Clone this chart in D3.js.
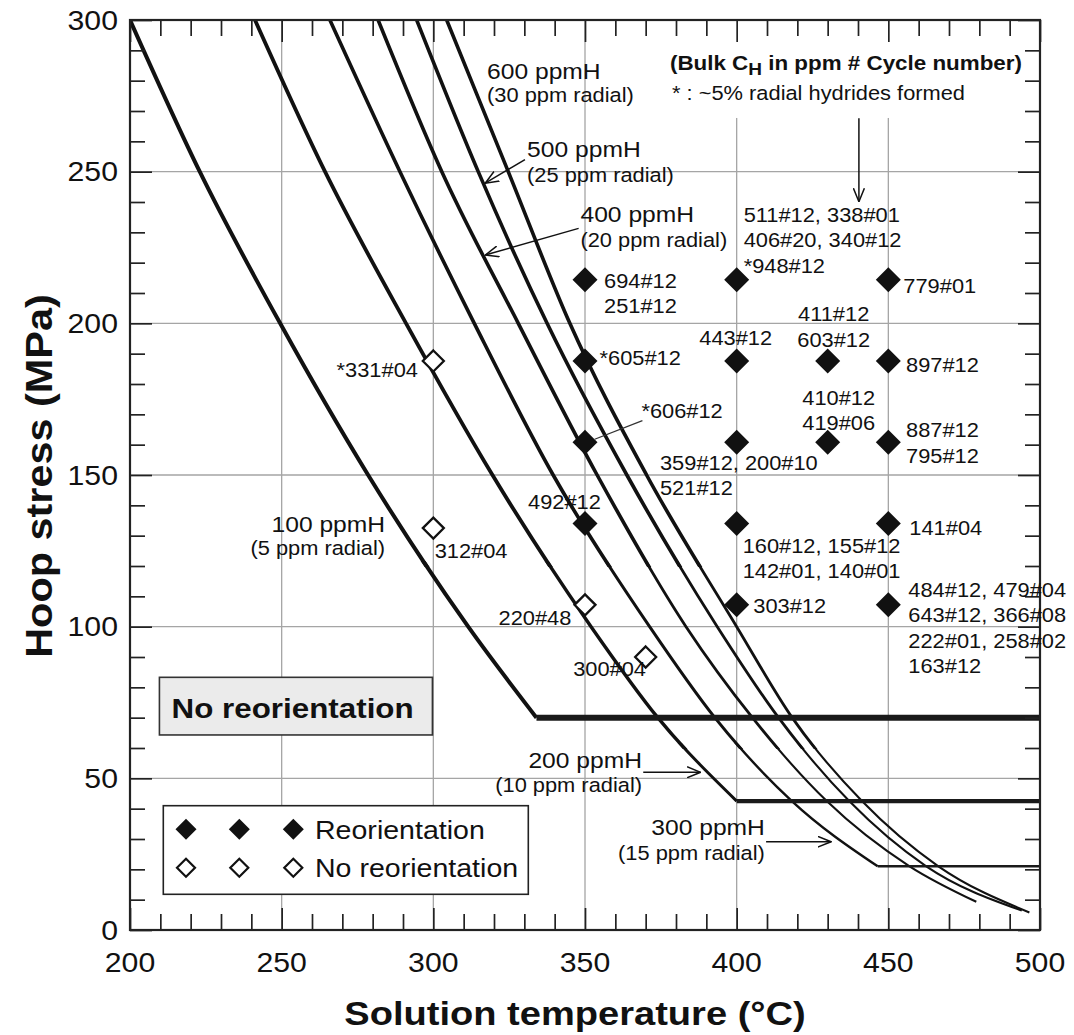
<!DOCTYPE html>
<html>
<head>
<meta charset="utf-8">
<script src="https://cdn.jsdelivr.net/npm/d3@7/dist/d3.min.js"></script>
<style>
  html, body { margin: 0; padding: 0; background: #fff; }
  svg { display: block; }
  text { font-family: "Liberation Sans", Arial, Helvetica, sans-serif; fill: #111; }
</style>
</head>
<body>
<svg id="chart" width="1074" height="1035"></svg>
<script>
// ---------- axes ----------
const tempDomain = [200, 500];
const stressDomain = [0, 300];
const tempTicks = [200, 250, 300, 350, 400, 450, 500];
const stressTicks = [0, 50, 100, 150, 200, 250, 300];

// ---------- threshold curves: [solution temperature °C, hoop stress MPa] ----------
const curve100 = [[200,300],[223,250],[249.5,200],[278.5,150],[311.5,100],[334,70]];
const curve200 = [[241.2,300],[264.3,250],[291,200],[319.5,150],[352,100],[374,70],[400,42.5]];
const curve300 = [[265.9,300],[289,250],[313.5,200],[339.5,150],[371.3,100],[392.8,70],[418.2,42.5],[446.5,21]];
const curve400 = [[281.8,300],[302.8,250],[328,200],[354,150],[383.3,100],[405.2,70],[429.7,42.5],[457,21],[479,9.3]];
const curve500 = [[294.5,300],[314.8,250],[337.5,200],[363.8,150],[393.6,100],[413.8,70],[437.1,42.5],[462.5,21],[494,6.4]];
const curve600 = [[304.4,300],[324.7,250],[345,200],[370.3,150],[400,100],[418.3,70],[441.3,42.5],[466.5,21],[496.5,5.8]];

// flat limits where the low-hydrogen curves level off
const plateau100 = [[334,70],[500,70]];
const plateau200 = [[400,42.5],[500,42.5]];
const plateau300 = [[446.5,21],[500,21]];

// ---------- tests with radial hydride reorientation ----------
const reoTemp   = [350, 400, 450, 350, 400, 430, 450, 350, 400, 430, 450, 350, 400, 450, 400, 450];
const reoStress = [214.4, 214.4, 214.4, 187.6, 187.6, 187.6, 187.6, 160.8, 160.8, 160.8, 160.8, 134, 134, 134, 107.2, 107.2];
const reoTags = [
  ['694#12', '251#12'],
  ['511#12, 338#01', '406#20, 340#12', '*948#12'],
  ['779#01'],
  ['*605#12'],
  ['443#12'],
  ['411#12', '603#12'],
  ['897#12'],
  ['*606#12'],
  ['359#12, 200#10', '521#12'],
  ['410#12', '419#06'],
  ['887#12', '795#12'],
  ['492#12'],
  ['160#12, 155#12', '142#01, 140#01'],
  ['141#04'],
  ['303#12'],
  ['484#12, 479#04', '643#12, 366#08', '222#01, 258#02', '163#12']
];

// ---------- tests without reorientation ----------
const noReoTemp   = [300, 300, 350, 370];
const noReoStress = [187.6, 132.5, 107.2, 90];
const noReoTags   = [['*331#04'], ['312#04'], ['220#48'], ['300#04']];

// ---------- tag placement (pixel offsets from the marker) ----------
const reoTagLayout = [
  {dx: 19, dy: 8.6, lh: 25},
  {dx: 7, dy: -58, lh: 25.8},
  {dx: 15, dy: 13.6},
  {dx: 14.5, dy: 4},
  {dx: -1, dy: -16, anchor: 'middle'},
  {dx: 6, dy: -40.2, lh: 26, anchor: 'middle'},
  {dx: 17.7, dy: 10.8},
  {dx: 56.4, dy: -24},
  {dx: -76.7, dy: 27.7, lh: 25},
  {dx: -25.4, dy: -37.3, lh: 25},
  {dx: 17.7, dy: -5.6, lh: 26.6},
  {dx: -57, dy: -14.3},
  {dx: 6, dy: 29.7, lh: 24.4},
  {dx: 21, dy: 11.4},
  {dx: 16.6, dy: 8.4},
  {dx: 20, dy: -8.2, lh: 25.6}
];
const noReoTagLayout = [
  {dx: -15.4, dy: 15.8, anchor: 'end'},
  {dx: 1.3, dy: 30.2},
  {dx: -13.6, dy: 20.1, anchor: 'end'},
  {dx: 0.3, dy: 19, anchor: 'end'}
];

// ---------- curve captions, anchored in data units ----------
const curveCaptions = [
  {lines: ['600 ppmH', '(30 ppm radial)'], t: 317.7, s: 280.6, anchor: 'start', lh: 23},
  {lines: ['500 ppmH', '(25 ppm radial)'], t: 330.9, s: 255.0, anchor: 'start', lh: 25},
  {lines: ['400 ppmH', '(20 ppm radial)'], t: 348.5, s: 233.4, anchor: 'start', lh: 25},
  {lines: ['100 ppmH', '(5 ppm radial)'],  t: 284.1, s: 131.3, anchor: 'end', lh: 23.3},
  {lines: ['200 ppmH', '(10 ppm radial)'], t: 368.8, s: 53.3, anchor: 'end', lh: 23.4},
  {lines: ['300 ppmH', '(15 ppm radial)'], t: 409.3, s: 31.3, anchor: 'end', lh: 25}
];
// pointer arrows: [fromT, fromS, toT, toS]
const pointers = [
  [330.2, 254.0, 317.1, 246.2],
  [347.9, 231.3, 317.1, 222.5],
  [369.2, 52.0, 388.1, 52.0],
  [409.7, 29.1, 431.1, 29.1],
  [440.3, 267.6, 440.3, 240.1]
];

// ================= drawing =================
const svg = d3.select('#chart');
const x = d3.scaleLinear().domain(tempDomain).range([130, 1040]);
const y = d3.scaleLinear().domain(stressDomain).range([930, 20]);
const SX = 1.12;          // glyphs of this figure are set slightly wide
const INK = '#111';

function label(g, px, py, str, o = {}) {
  const t = g.append('text')
    .attr('transform', `translate(${px},${py}) scale(${SX},1)`)
    .attr('text-anchor', o.anchor || 'start')
    .style('font-size', (o.size || 19.5) + 'px')
    .style('font-weight', o.bold ? 'bold' : 'normal')
    .text(str);
  return t;
}

const defs = svg.append('defs');
defs.append('clipPath').attr('id', 'plot').append('rect')
  .attr('x', x(200)).attr('y', y(300))
  .attr('width', x(500) - x(200)).attr('height', y(0) - y(300));
// stress bands: the traced curves get thinner towards low stress
const bands = [[300, 118], [120, 58], [60, 0]];
bands.forEach((b, i) => {
  defs.append('clipPath').attr('id', 'band' + i).append('rect')
    .attr('x', x(200) - 5).attr('y', y(b[0]) - 5)
    .attr('width', x(500) - x(200) + 10).attr('height', y(b[1]) - y(b[0]) + (i === 2 ? 10 : 0));
});
defs.append('marker').attr('id', 'arrow')
  .attr('viewBox', '0 0 14 12').attr('refX', 13.5).attr('refY', 6)
  .attr('markerWidth', 14).attr('markerHeight', 12)
  .attr('markerUnits', 'userSpaceOnUse').attr('orient', 'auto')
  .append('path').attr('d', 'M0,0.5 L13.5,6 L0,11.5')
  .attr('fill', 'none').attr('stroke', INK).attr('stroke-width', 1.5);

// grid
const grid = svg.append('g').attr('stroke', '#a5a5a5').attr('stroke-width', 1.3);
grid.selectAll('line.gx').data(tempTicks.slice(1, -1)).join('line').attr('class', 'gx')
  .attr('x1', d => x(d)).attr('x2', d => x(d)).attr('y1', y(300)).attr('y2', y(0));
grid.selectAll('line.gy').data(stressTicks.slice(1, -1)).join('line').attr('class', 'gy')
  .attr('x1', x(200)).attr('x2', x(500)).attr('y1', d => y(d)).attr('y2', d => y(d));

// blank panel behind the header note
svg.append('rect').attr('x', x(375)).attr('y', y(300) + 1)
  .attr('width', x(500) - x(375) - 2).attr('height', y(267.7) - y(300) - 1).attr('fill', '#fff');

// threshold curves
const curveLine = d3.line().x(d => x(d[0])).y(d => y(d[1])).curve(d3.curveMonotoneX);
const straight = d3.line().x(d => x(d[0])).y(d => y(d[1]));
const curveSet = [
  {pts: curve100, w: [4.0, 4.0, 4.0]},
  {pts: curve200, w: [3.8, 3.4, 3.0]},
  {pts: curve300, w: [3.6, 3.0, 2.4]},
  {pts: curve400, w: [3.6, 2.8, 2.1]},
  {pts: curve500, w: [3.6, 2.8, 2.1]},
  {pts: curve600, w: [3.6, 2.8, 2.1]}
];
const cg = svg.append('g').attr('clip-path', 'url(#plot)');
curveSet.forEach(c => {
  c.w.forEach((w, i) => {
    cg.append('g').attr('clip-path', `url(#band${i})`).append('path')
      .attr('d', curveLine(c.pts)).attr('fill', 'none')
      .attr('stroke', INK).attr('stroke-width', w).attr('stroke-linejoin', 'round');
  });
});
[[plateau100, 6], [plateau200, 4.4], [plateau300, 2.4]].forEach(([p, w]) => {
  cg.append('path').attr('d', straight(p)).attr('fill', 'none')
    .attr('stroke', '#1a1a1a').attr('stroke-width', w);
});

// markers
const diamond = r => `M0,${-r}L${r},0L0,${r}L${-r},0Z`;
svg.append('g').selectAll('path').data(d3.range(reoTemp.length)).join('path')
  .attr('transform', i => `translate(${x(reoTemp[i])},${y(reoStress[i])})`)
  .attr('d', diamond(12.5)).attr('fill', INK);
svg.append('g').selectAll('path').data(d3.range(noReoTemp.length)).join('path')
  .attr('transform', i => `translate(${x(noReoTemp[i])},${y(noReoStress[i])})`)
  .attr('d', diamond(10.5)).attr('fill', '#fff').attr('stroke', INK).attr('stroke-width', 2.3);

// leader from the *606#12 tag to its marker
svg.append('line')
  .attr('x1', x(350) + 57.4).attr('y1', y(160.8) - 21.6)
  .attr('x2', x(350) + 9.7).attr('y2', y(160.8) - 3)
  .attr('stroke', '#333').attr('stroke-width', 1.3);

// frame and ticks
const frame = svg.append('g');
const minorT = d3.range(200, 501, 10).filter(v => v % 50 !== 0);
const minorS = d3.range(0, 301, 10).filter(v => v % 50 !== 0);
function tickRow(axis, vals, size, tr) {
  frame.append('g').attr('transform', tr)
    .call(axis.tickValues(vals).tickSize(-size).tickFormat(''))
    .call(g => g.select('.domain').remove())
    .call(g => g.selectAll('line').attr('stroke', '#222').attr('stroke-width', 1.7));
}
tickRow(d3.axisBottom(x), tempTicks, 22, `translate(0,${y(0)})`);
tickRow(d3.axisBottom(x), minorT, 16, `translate(0,${y(0)})`);
tickRow(d3.axisTop(x), tempTicks, 22, `translate(0,${y(300)})`);
tickRow(d3.axisTop(x), minorT, 16, `translate(0,${y(300)})`);
tickRow(d3.axisLeft(y), stressTicks, 22, `translate(${x(200)},0)`);
tickRow(d3.axisLeft(y), minorS, 15, `translate(${x(200)},0)`);
tickRow(d3.axisRight(y), stressTicks, 22, `translate(${x(500)},0)`);
tickRow(d3.axisRight(y), minorS, 15, `translate(${x(500)},0)`);
frame.append('rect').attr('x', x(200)).attr('y', y(300))
  .attr('width', x(500) - x(200)).attr('height', y(0) - y(300))
  .attr('fill', 'none').attr('stroke', '#222').attr('stroke-width', 2.2);

// tick labels
const tl = svg.append('g');
tempTicks.forEach(v => label(tl, x(v), 972, String(v), {size: 27, anchor: 'middle'}));
stressTicks.forEach(v => label(tl, 118, y(v) + 9.6, String(v), {size: 27, anchor: 'end'}));

// axis titles
label(svg, 575, 1025, 'Solution temperature (°C)', {size: 34, bold: true, anchor: 'middle'});
svg.append('text')
  .attr('transform', `translate(52,${(y(0) + y(300)) / 2 + 1}) rotate(-90) scale(${SX},1)`)
  .attr('text-anchor', 'middle').style('font-size', '37px').style('font-weight', 'bold')
  .text('Hoop stress (MPa)');

// specimen tags
const tags = svg.append('g');
function drawTags(temps, stresses, tagList, layout) {
  tagList.forEach((lines, i) => {
    const L = layout[i];
    const px = x(temps[i]) + L.dx, py = y(stresses[i]) + L.dy;
    lines.forEach((s, k) => label(tags, px, py + k * (L.lh || 25), s, {size: 19.5, anchor: L.anchor || 'start'}));
  });
}
drawTags(reoTemp, reoStress, reoTags, reoTagLayout);
drawTags(noReoTemp, noReoStress, noReoTags, noReoTagLayout);

// curve captions
curveCaptions.forEach(c => {
  label(svg, x(c.t), y(c.s), c.lines[0], {size: 22, anchor: c.anchor});
  label(svg, x(c.t), y(c.s) + c.lh, c.lines[1], {size: 19.5, anchor: c.anchor});
});
svg.append('g').selectAll('line').data(pointers).join('line')
  .attr('x1', d => x(d[0])).attr('y1', d => y(d[1]))
  .attr('x2', d => x(d[2])).attr('y2', d => y(d[3]))
  .attr('stroke', INK).attr('stroke-width', 1.5).attr('marker-end', 'url(#arrow)');

// header note
const head = svg.append('text')
  .attr('transform', `translate(${x(378)},${y(283.5)}) scale(${SX},1)`)
  .style('font-size', '20px').style('font-weight', 'bold');
head.append('tspan').text('(Bulk C');
head.append('tspan').text('H').attr('dy', 5).style('font-size', '17px');
head.append('tspan').text(' in ppm # Cycle number)').attr('dy', -5);
label(svg, x(378.7), y(273.6), '* : ~5% radial hydrides formed', {size: 19.5});

// "No reorientation" region tag
svg.append('rect').attr('x', x(209.7)).attr('y', y(83.3))
  .attr('width', x(299.7) - x(209.7)).attr('height', y(64.3) - y(83.3))
  .attr('fill', '#ebebeb').attr('stroke', '#333').attr('stroke-width', 1.6);
label(svg, x(213.7), y(69.8), 'No reorientation', {size: 28, bold: true});

// legend
const lg = svg.append('g').attr('transform', 'translate(163.3,805.7)');
lg.append('rect').attr('width', 365).attr('height', 88.6)
  .attr('fill', '#fff').attr('stroke', '#222').attr('stroke-width', 1.6);
const legendRows = [
  {name: 'Reorientation', filled: true, cy: 23.6},
  {name: 'No reorientation', filled: false, cy: 62}
];
legendRows.forEach(r => {
  [22.7, 76, 130].forEach(cx => {
    lg.append('path').attr('transform', `translate(${cx},${r.cy})`)
      .attr('d', diamond(r.filled ? 10.5 : 9))
      .attr('fill', r.filled ? INK : '#fff')
      .attr('stroke', r.filled ? 'none' : INK).attr('stroke-width', 2.2);
  });
  label(lg, 151.7, r.cy + 9.6, r.name, {size: 25.5});
});
</script>
</body>
</html>
